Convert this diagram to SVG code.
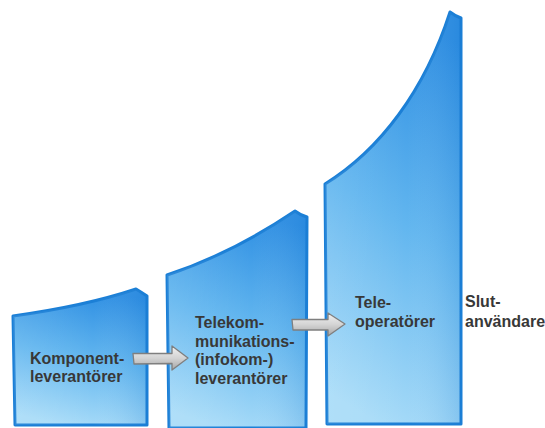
<svg xmlns="http://www.w3.org/2000/svg" width="545" height="428" viewBox="0 0 545 428">
  <defs>
    <!-- blue fill for the value-chain blocks: deep at the top, pale at the bottom -->
    <linearGradient id="blockFill" x1="0.6" y1="0" x2="0.4" y2="1">
      <stop offset="0" stop-color="#2c8de2"/>
      <stop offset="0.5" stop-color="#62b6ef"/>
      <stop offset="1" stop-color="#a9dcf8"/>
    </linearGradient>
    <!-- slight darkening toward the right side of each block -->
    <linearGradient id="blockShade" x1="0" y1="0" x2="1" y2="0">
      <stop offset="0" stop-color="#ffffff" stop-opacity="0.08"/>
      <stop offset="0.6" stop-color="#ffffff" stop-opacity="0"/>
      <stop offset="1" stop-color="#1a74c8" stop-opacity="0.15"/>
    </linearGradient>
    <linearGradient id="arrowFill" x1="0" y1="0" x2="0" y2="1">
      <stop offset="0" stop-color="#f2f2f2"/>
      <stop offset="0.5" stop-color="#d4d4d4"/>
      <stop offset="1" stop-color="#a6a6a6"/>
    </linearGradient>
  </defs>
  <style>
    .block { fill: url(#blockFill); stroke: #1b7fd6; stroke-width: 3; stroke-linejoin: round; }
    .shade { fill: url(#blockShade); stroke: none; }
    .label { font-family: "Liberation Sans", Arial, sans-serif; font-weight: bold; font-size: 16px; fill: #383838; }
    .arrow { fill: url(#arrowFill); stroke: #7f7f7f; stroke-width: 1.3; stroke-linejoin: round; }
  </style>

  <rect width="545" height="428" fill="#ffffff"/>

  <!-- component suppliers -->
  <g id="komponentleverantorer">
    <path class="block" d="M13,316 Q85,306 136,289 Q141,292 147,296 L147,425 L15,425 Z"/>
    <path class="shade" d="M13,316 Q85,306 136,289 Q141,292 147,296 L147,425 L15,425 Z"/>
    <text class="label" x="30" y="364">Komponent-</text>
    <text class="label" x="30" y="382">leverantörer</text>
  </g>

  <!-- telecom (infocom) suppliers -->
  <g id="telekomleverantorer">
    <path class="block" d="M167,275 Q231,254 295,211 Q300,215 307,217 L306,428 L169,428 Z"/>
    <path class="shade" d="M167,275 Q231,254 295,211 Q300,215 307,217 L306,428 L169,428 Z"/>
    <text class="label" x="195" y="328">Telekom-</text>
    <text class="label" x="195" y="346.5">munikations-</text>
    <text class="label" x="195" y="365">(infokom-)</text>
    <text class="label" x="195" y="383.5">leverantörer</text>
  </g>

  <!-- telecom operators -->
  <g id="teleoperatorer">
    <path class="block" d="M325,184 C380,150 425,90 450,12 Q455,16 461,18 L461,424 L327,424 Z"/>
    <path class="shade" d="M325,184 C380,150 425,90 450,12 Q455,16 461,18 L461,424 L327,424 Z"/>
    <text class="label" x="355" y="308">Tele-</text>
    <text class="label" x="355" y="327">operatörer</text>
  </g>

  <!-- end users -->
  <g id="slutanvandare">
    <text class="label" x="465" y="307">Slut-</text>
    <text class="label" x="465" y="327">användare</text>
  </g>

  <!-- flow arrows between the stages -->
  <g id="connectors">
    <path class="arrow" d="M133,353.5 L172,353.5 L172,346 L188,358 L172,370 L172,363.5 L134,364 Z"/>
    <path class="arrow" d="M292,319.5 L328,319.5 L328,313 L345,324 L328,336 L328,330 L293,330 Z"/>
  </g>
</svg>
